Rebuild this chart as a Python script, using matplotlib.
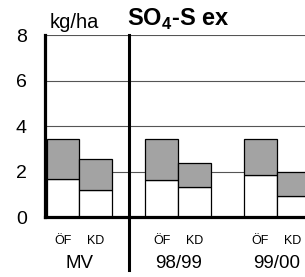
import numpy as np
import matplotlib
matplotlib.use("Agg")
import matplotlib.pyplot as plt

plt.rcParams['font.family'] = ['Liberation Sans', 'DejaVu Sans']
plt.rcParams['mathtext.fontset'] = 'custom'
plt.rcParams['mathtext.rm'] = 'Liberation Sans'
plt.rcParams['mathtext.bf'] = 'Liberation Sans:bold'

groups = ['MV', '98/99', '99/00']
bar_labels = ['ÖF', 'KD']
# lower (white) part and total height for each bar: ÖF, KD per group
lower = [[1.67, 1.21], [1.64, 1.31], [1.85, 0.92]]
total = [[3.43, 2.55], [3.43, 2.40], [3.43, 1.97]]
yticks = [0, 2, 4, 6, 8]

fig = plt.figure(figsize=(3.05, 2.77), dpi=100)
ax = fig.add_axes([0.1475, 0.2155, 0.975, 0.658])

xs, xl = [], []
for g in range(len(groups)):
    for b in range(2):
        x = g * 3 + b
        lo = lower[g][b]
        hi = total[g][b]
        ax.bar(x, lo, width=1.0, color='white', edgecolor='black', linewidth=0.9, zorder=3)
        ax.bar(x, hi - lo, bottom=lo, width=1.0, color='#a3a3a3', edgecolor='black',
               linewidth=0.9, zorder=3)
        xs.append(x)
        xl.append(bar_labels[b])

ax.set_xlim(-0.55, 8.5)
ax.set_ylim(0, 8)
ax.set_yticks(yticks)
ax.set_yticklabels([str(v) for v in yticks], fontsize=14)
ax.set_xticks([])
ax.tick_params(axis='both', length=0)
ax.tick_params(axis='y', pad=13)

for v in yticks[1:]:
    ax.axhline(v, color='#555555', linewidth=0.8, zorder=1)

for s in ['top', 'right']:
    ax.spines[s].set_visible(False)
for s in ['left', 'bottom']:
    ax.spines[s].set_linewidth(2.3)
    ax.spines[s].set_zorder(5)

# separator between MV and the years
ax.plot([2.0, 2.0], [-0.29, 1.0], transform=ax.get_xaxis_transform(),
        color='black', linewidth=2.2, clip_on=False, zorder=5)

trans = ax.get_xaxis_transform()
for x, lab in zip(xs, xl):
    ax.text(x, -0.13, lab, transform=trans, ha='center', va='center', fontsize=9)
for g, name in enumerate(groups):
    ax.text(g * 3 + 0.5, -0.255, name, transform=trans, ha='center', va='center',
            fontsize=13.5)

fig.text(0.164, 0.899, 'kg/ha', fontsize=14.5, ha='left', va='baseline')
fig.text(0.416, 0.906, r'SO$_\mathbf{4}$-S ex', fontsize=17, fontweight='bold',
         ha='left', va='baseline')

fig.savefig('out.png', dpi=100)
